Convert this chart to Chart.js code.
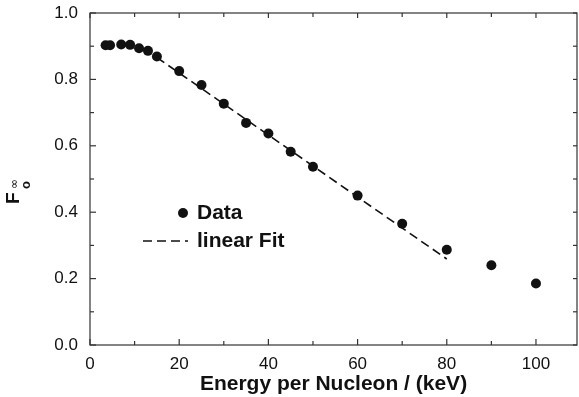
<!DOCTYPE html>
<html>
<head>
<meta charset="utf-8">
<script src="https://cdn.jsdelivr.net/npm/chart.js@4/dist/chart.umd.min.js"></script>
<style>
  html, body { margin: 0; padding: 0; background: #fff; }
  #wrap { width: 579px; height: 397px; }
</style>
</head>
<body>
<div id="wrap"><canvas id="myChart" width="579" height="397"></canvas></div>
<script>
// measured points (energy per nucleon in keV, F0 infinity)
const energy = [3.5, 4.5, 7, 9, 11, 13, 15, 20, 25, 30, 35, 40, 45, 50, 60, 70, 80, 90, 100];
const fraction = [0.903, 0.903, 0.905, 0.904, 0.894, 0.886, 0.869, 0.825, 0.783, 0.727, 0.669, 0.637, 0.582, 0.537, 0.450, 0.365, 0.287, 0.240, 0.185];

// linear fit end points
const fitEnergy = [15, 80];
const fitFraction = [0.866, 0.259];

const xTicks = [0, 20, 40, 60, 80, 100];
const xMinorTicks = [10, 30, 50, 70, 90];
const yTicks = [0, 0.2, 0.4, 0.6, 0.8, 1.0];
const yMinorTicks = [0.1, 0.3, 0.5, 0.7, 0.9];

const ink = "#111";
const fontName = "'Liberation Sans', Arial, Helvetica, sans-serif";

const toPoints = (xs, ys) => xs.map((x, i) => ({ x: x, y: ys[i] }));

// frame with inward ticks on all four sides
const framePlugin = {
    id: "frame",
    afterDraw: (chart) => {
        const ctx = chart.ctx;
        const a = chart.chartArea;
        const xs = chart.scales.x;
        const ys = chart.scales.y;
        ctx.save();
        ctx.strokeStyle = "#333";
        ctx.lineWidth = 1.2;
        ctx.strokeRect(a.left, a.top, a.right - a.left, a.bottom - a.top);

        const tick = (x1, y1, x2, y2) => {
            ctx.beginPath();
            ctx.moveTo(x1, y1);
            ctx.lineTo(x2, y2);
            ctx.stroke();
        };
        xTicks.forEach(v => {
            const p = xs.getPixelForValue(v);
            tick(p, a.bottom, p, a.bottom - 6);
            tick(p, a.top, p, a.top + 5);
        });
        xMinorTicks.forEach(v => {
            const p = xs.getPixelForValue(v);
            tick(p, a.bottom, p, a.bottom - 4);
            tick(p, a.top, p, a.top + 4);
        });
        yTicks.forEach(v => {
            const p = ys.getPixelForValue(v);
            tick(a.left, p, a.left + 6, p);
            tick(a.right, p, a.right - 4, p);
        });
        yMinorTicks.forEach(v => {
            const p = ys.getPixelForValue(v);
            tick(a.left, p, a.left + 4, p);
            tick(a.right, p, a.right - 4, p);
        });
        ctx.restore();
    }
};

// legend inside the plot + rotated y label with sub/superscript
const labelPlugin = {
    id: "labels",
    afterDraw: (chart) => {
        const ctx = chart.ctx;
        ctx.save();
        ctx.fillStyle = ink;
        ctx.strokeStyle = ink;

        // legend
        ctx.beginPath();
        ctx.arc(183, 213, 5, 0, Math.PI * 2);
        ctx.fill();
        ctx.font = "bold 21px " + fontName;
        ctx.textBaseline = "middle";
        ctx.textAlign = "left";
        ctx.fillText("Data", 197, 213);

        ctx.lineWidth = 1.6;
        ctx.setLineDash([9, 5]);
        ctx.beginPath();
        ctx.moveTo(143, 241);
        ctx.lineTo(188, 241);
        ctx.stroke();
        ctx.setLineDash([]);
        ctx.fillText("linear Fit", 197, 241);

        // y axis title: F with superscript infinity and subscript o
        ctx.translate(19, 204);
        ctx.rotate(-Math.PI / 2);
        ctx.textBaseline = "alphabetic";
        ctx.font = "bold 19px " + fontName;
        ctx.fillText("F", 0, 0);
        ctx.font = "12px 'DejaVu Sans', sans-serif";
        ctx.fillText("\u221E", 15, -1);
        ctx.font = "bold 13px " + fontName;
        ctx.fillText("o", 15, 11);
        ctx.restore();
    }
};

const ctx = document.getElementById("myChart").getContext("2d");

const myChart = new Chart(ctx, {
    type: "scatter",
    data: {
        datasets: [
            {
                label: "Data",
                data: toPoints(energy, fraction),
                backgroundColor: ink,
                borderColor: ink,
                pointRadius: 5,
                pointHoverRadius: 5,
                borderWidth: 0
            },
            {
                label: "linear Fit",
                type: "line",
                data: toPoints(fitEnergy, fitFraction),
                borderColor: ink,
                borderWidth: 1.6,
                borderDash: [9, 5],
                pointRadius: 0,
                fill: false
            }
        ]
    },
    plugins: [framePlugin, labelPlugin],
    options: {
        responsive: false,
        animation: false,
        layout: { autoPadding: false, padding: { top: 13, right: 2, left: 0, bottom: 0 } },
        plugins: {
            legend: { display: false },
            tooltip: { enabled: false }
        },
        scales: {
            x: {
                type: "linear",
                min: 0,
                max: 109.2,
                afterBuildTicks: (scale) => {
                    scale.ticks = xTicks.map(v => ({ value: v }));
                },
                afterFit: (scale) => {
                    scale.height = 52;
                    scale.paddingLeft = 0;
                    scale.paddingRight = 0;
                },
                grid: { display: false },
                border: { display: false },
                ticks: {
                    color: ink,
                    padding: 1,
                    maxRotation: 0,
                    font: { family: fontName, size: 17 },
                    callback: (v) => v
                },
                title: {
                    display: true,
                    text: "Energy per Nucleon / (keV)",
                    color: ink,
                    padding: { top: 0, bottom: 0 },
                    font: { family: fontName, size: 21, weight: "bold" }
                }
            },
            y: {
                type: "linear",
                min: 0,
                max: 1.0,
                afterBuildTicks: (scale) => {
                    scale.ticks = yTicks.map(v => ({ value: v }));
                },
                afterFit: (scale) => {
                    scale.width = 90;
                    scale.paddingTop = 0;
                    scale.paddingBottom = 0;
                },
                grid: { display: false },
                border: { display: false },
                ticks: {
                    color: ink,
                    padding: 4,
                    font: { family: fontName, size: 17 },
                    callback: (v) => v.toFixed(1)
                }
            }
        }
    }
});
</script>
</body>
</html>
